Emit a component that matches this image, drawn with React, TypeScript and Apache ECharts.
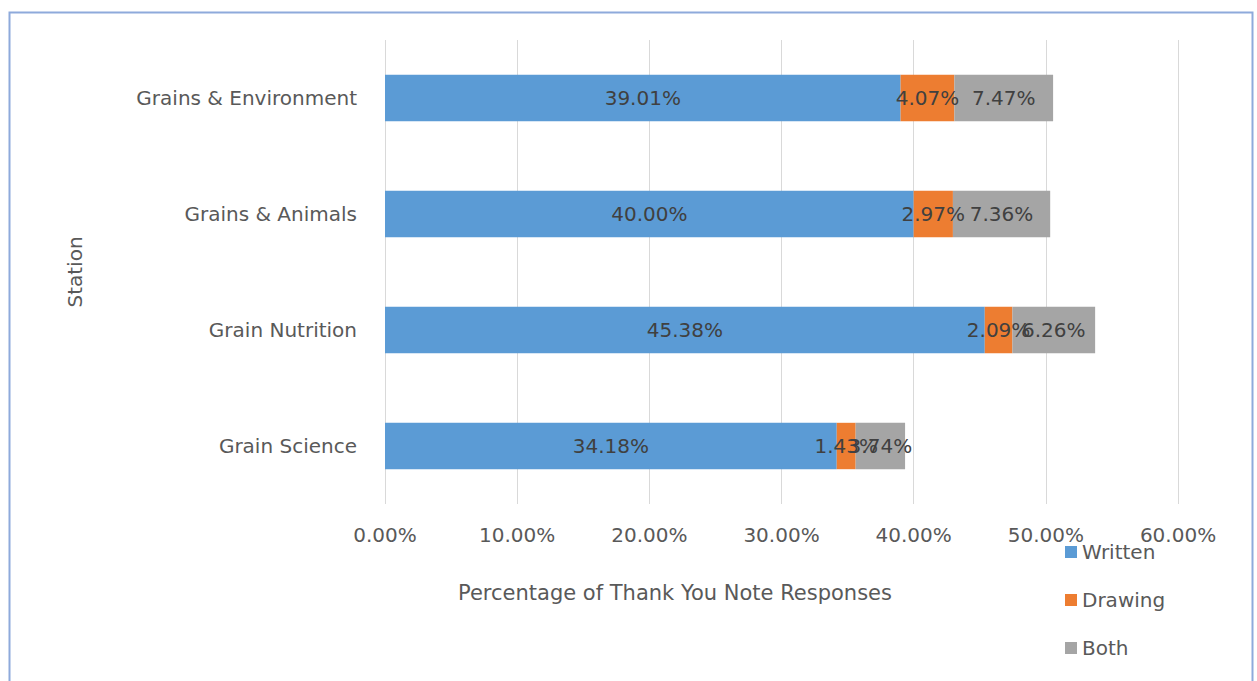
import React, { useEffect, useRef } from "react";
import * as echarts from "echarts";

const categories = ["Grain Science", "Grain Nutrition", "Grains & Animals", "Grains & Environment"];
const written = [34.18, 45.38, 40.0, 39.01];
const drawing = [1.43, 2.09, 2.97, 4.07];
const both = [3.74, 6.26, 7.36, 7.47];
const seriesNames = ["Written", "Drawing", "Both"];
const xTitle = "Percentage of Thank You Note Responses";
const yTitle = "Station";

const FONT = "DejaVu Sans";
const TEXT = "#595959";

export default function App() {
  const ref = useRef<HTMLDivElement>(null);
  useEffect(() => {
    if (!ref.current) return;
    const chart = echarts.init(ref.current, undefined, { renderer: "svg" });
    const label = {
      show: true,
      position: "inside" as const,
      color: "#404040",
      fontFamily: FONT,
      fontSize: 20,
      formatter: (p: any) => Number(p.value).toFixed(2) + "%",
    };
    const mk = (name: string, data: number[], color: string) => ({
      name,
      type: "bar" as const,
      stack: "total",
      data,
      barCategoryGap: "60%",
      itemStyle: { color },
      label,
      emphasis: { disabled: true },
    });
    chart.setOption({
      animation: false,
      backgroundColor: "#ffffff",
      textStyle: { fontFamily: FONT },
      grid: { left: 385, right: 79, top: 40, bottom: 177 },
      xAxis: {
        type: "value",
        min: 0,
        max: 60,
        interval: 10,
        axisLine: { show: false },
        axisTick: { show: false },
        splitLine: { lineStyle: { color: "#d9d9d9", width: 1 } },
        axisLabel: {
          color: TEXT,
          fontFamily: FONT,
          fontSize: 20,
          margin: 21,
          formatter: (v: number) => v.toFixed(2) + "%",
        },
      },
      yAxis: {
        type: "category",
        data: categories,
        axisLine: { show: false },
        axisTick: { show: false },
        axisLabel: { color: TEXT, fontFamily: FONT, fontSize: 20, margin: 28 },
      },
      legend: {
        orient: "vertical",
        left: 1060,
        top: 537,
        itemGap: 28,
        itemWidth: 12,
        itemHeight: 12,
        icon: "rect",
        textStyle: { color: TEXT, fontFamily: FONT, fontSize: 20 },
        data: seriesNames,
      },
      graphic: [
        {
          type: "rect",
          shape: { x: 9.5, y: 12.5, width: 1243, height: 700 },
          style: { fill: "none", stroke: "#8eaadb", lineWidth: 2 },
          silent: true,
        },
        {
          type: "text",
          x: 675,
          y: 593,
          style: {
            text: xTitle,
            fill: TEXT,
            font: `21px "${FONT}"`,
            textAlign: "center",
            textVerticalAlign: "middle",
          },
        },
        {
          type: "text",
          x: 75,
          y: 272,
          rotation: Math.PI / 2,
          style: {
            text: yTitle,
            fill: TEXT,
            font: `20px "${FONT}"`,
            textAlign: "center",
            textVerticalAlign: "middle",
          },
        },
      ],
      series: [
        mk(seriesNames[0], written, "#5b9bd5"),
        mk(seriesNames[1], drawing, "#ed7d31"),
        mk(seriesNames[2], both, "#a5a5a5"),
      ],
    });
    return () => chart.dispose();
  }, []);
  return (
    <div
      ref={ref}
      style={{ position: "absolute", left: 0, top: 0, width: 1257, height: 681 }}
    />
  );
}
